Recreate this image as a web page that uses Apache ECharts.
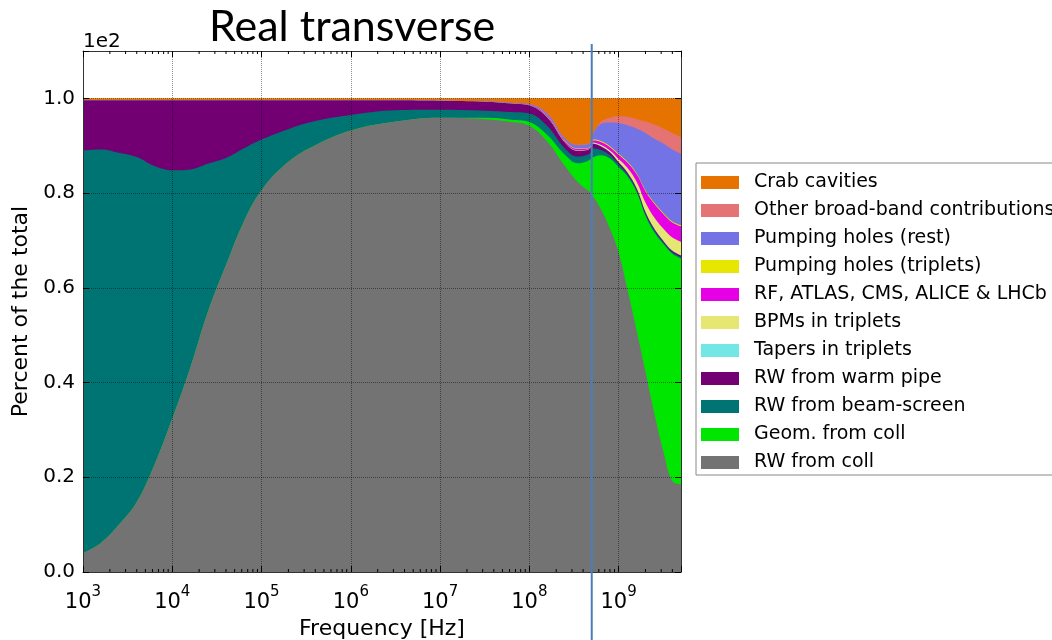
<!DOCTYPE html>
<html>
<head>
<meta charset="utf-8">
<script src="https://cdn.jsdelivr.net/npm/echarts@6/dist/echarts.min.js"></script>
<style>
  html, body { margin: 0; padding: 0; background: #fff; }
  #chart { width: 1052px; height: 640px; }
</style>
</head>
<body>
<div id="chart"></div>
<script>
// Frequency grid (Hz) shared by every contribution
const frequency = [
  1000, 1600, 2500, 4000, 6300, 1e4, 1.6e4, 2.5e4, 4e4, 6.3e4,
  1e5, 2e5, 4e5, 1e6, 3.2e6, 1e7, 3.2e7, 6.3e7, 1e8, 1.6e8,
  2.5e8, 3.5e8, 4.5e8, 4.9e8, 5.2e8, 6.3e8, 8e8, 1e9, 1.26e9, 1.6e9,
  2e9, 2.5e9, 3.2e9, 4e9, 5e9
];

// Fraction of the total real transverse impedance, per contribution
const rwColl = [
  0.040, 0.062, 0.099, 0.148, 0.226, 0.324, 0.433, 0.549, 0.648, 0.739,
  0.806, 0.866, 0.901, 0.932, 0.951, 0.959, 0.956, 0.950, 0.942, 0.908,
  0.857, 0.823, 0.806, 0.800, 0.793, 0.767, 0.725, 0.675, 0.595, 0.508,
  0.423, 0.337, 0.252, 0.192, 0.185
];
const geomColl = [
  0, 0, 0, 0, 0, 0, 0, 0, 0, 0,
  0, 0, 0, 0, 0, 0, 0.003, 0.005, 0.008, 0.014,
  0.024, 0.040, 0.062, 0.072, 0.083, 0.113, 0.148, 0.180, 0.240, 0.293,
  0.329, 0.381, 0.440, 0.480, 0.477
];
const rwBeamScreen = [
  0.850, 0.830, 0.786, 0.728, 0.631, 0.524, 0.417, 0.313, 0.226, 0.155,
  0.107, 0.069, 0.051, 0.033, 0.024, 0.017, 0.015, 0.016, 0.018, 0.019,
  0.013, 0.014, 0.013, 0.014, 0.018, 0.011, 0.007, 0.006, 0.004, 0.004,
  0.004, 0.004, 0.003, 0.003, 0.003
];
const rwWarmPipe = [
  0.106, 0.104, 0.111, 0.120, 0.139, 0.148, 0.146, 0.134, 0.122, 0.102,
  0.083, 0.061, 0.044, 0.031, 0.021, 0.019, 0.019, 0.018, 0.017, 0.018,
  0.013, 0.012, 0.010, 0.010, 0.010, 0.008, 0.006, 0.004, 0.004, 0.004,
  0.004, 0.003, 0.003, 0.003, 0.003
];
const tapersTriplets = [
  0, 0, 0, 0, 0, 0, 0, 0, 0, 0,
  0, 0, 0, 0, 0, 0, 0, 0, 0, 0,
  0, 0, 0, 0, 0.001, 0.001, 0.001, 0.001, 0.001, 0.001,
  0.001, 0.001, 0.001, 0.001, 0.001
];
const bpmsTriplets = [
  0, 0, 0, 0, 0, 0, 0, 0, 0, 0,
  0, 0, 0, 0, 0, 0, 0, 0, 0, 0.001,
  0.001, 0.001, 0.001, 0.001, 0.002, 0.002, 0.003, 0.006, 0.009, 0.013,
  0.019, 0.023, 0.025, 0.027, 0.028
];
const rfExperiments = [
  0, 0, 0, 0, 0, 0, 0, 0, 0, 0,
  0, 0, 0, 0, 0, 0, 0, 0, 0.001, 0.002,
  0.002, 0.003, 0.002, 0.002, 0.004, 0.006, 0.007, 0.009, 0.011, 0.016,
  0.024, 0.029, 0.031, 0.032, 0.033
];
const pumpingTriplets = [
  0, 0, 0, 0, 0, 0, 0, 0, 0, 0,
  0, 0, 0, 0, 0, 0, 0, 0, 0, 0.001,
  0.001, 0.001, 0.001, 0.001, 0.002, 0.002, 0.002, 0.002, 0.002, 0.002,
  0.002, 0.002, 0.002, 0.002, 0.002
];
const pumpingRest = [
  0, 0, 0, 0, 0, 0, 0, 0, 0, 0,
  0, 0, 0, 0, 0, 0, 0.001, 0.002, 0.002, 0.004,
  0.004, 0.007, 0.008, 0.009, 0.012, 0.036, 0.050, 0.065, 0.077, 0.095,
  0.121, 0.135, 0.147, 0.152, 0.151
];
const otherBroadBand = [
  0, 0, 0, 0, 0, 0, 0, 0, 0, 0,
  0, 0, 0, 0, 0, 0, 0, 0, 0, 0.001,
  0.001, 0.001, 0.001, 0.001, 0, 0.004, 0.010, 0.014, 0.018, 0.020,
  0.024, 0.030, 0.032, 0.035, 0.035
];
const crabCavities = [
  0.004, 0.004, 0.004, 0.004, 0.004, 0.004, 0.004, 0.004, 0.004, 0.004,
  0.004, 0.004, 0.004, 0.004, 0.004, 0.005, 0.006, 0.009, 0.012, 0.032,
  0.084, 0.098, 0.096, 0.090, 0.075, 0.050, 0.041, 0.038, 0.039, 0.044,
  0.049, 0.055, 0.064, 0.073, 0.082
];

// Axis ranges and labels
const freqMin = 1e3;
const freqMax = 5e9;
const yMin = 0;
const yMax = 1.1;
const yStep = 0.2;
const markerFreq = 5e8;
const titleText = 'Real transverse';
const xName = 'Frequency [Hz]';
const yName = 'Percent of the total';
const yOffsetText = '1e2';

// Stacking order, bottom to top
const layers = [
  { name: 'RW from coll', color: '#737373', values: rwColl },
  { name: 'Geom. from coll', color: '#00e600', values: geomColl },
  { name: 'RW from beam-screen', color: '#007373', values: rwBeamScreen },
  { name: 'RW from warm pipe', color: '#730073', values: rwWarmPipe },
  { name: 'Tapers in triplets', color: '#73e6e6', values: tapersTriplets },
  { name: 'BPMs in triplets', color: '#e6e673', values: bpmsTriplets },
  { name: 'RF, ATLAS, CMS, ALICE & LHCb', color: '#e600e6', values: rfExperiments },
  { name: 'Pumping holes (triplets)', color: '#e6e600', values: pumpingTriplets },
  { name: 'Pumping holes (rest)', color: '#7373e6', values: pumpingRest },
  { name: 'Other broad-band contributions', color: '#e67373', values: otherBroadBand },
  { name: 'Crab cavities', color: '#e67300', values: crabCavities }
];

// Running totals: each band is filled from zero up to its cumulative top,
// and lower bands are painted over the higher ones.
const running = frequency.map(() => 0);
const cumulative = layers.map(l => l.values.map((v, i) => (running[i] += v)));

// Log-axis minor tick positions (2..9 x 10^n)
const minorTickFreqs = [];
for (let e = 3; e <= 9; e++) {
  for (let m = 2; m <= 9; m++) {
    const f = m * Math.pow(10, e);
    if (f < freqMax) minorTickFreqs.push(f);
  }
}

const FONT = 'DejaVu Sans';
const chart = echarts.init(document.getElementById('chart'), null, { renderer: 'canvas' });

function powLabel(v) {
  const e = Math.round(Math.log10(v));
  if (Math.abs(v / Math.pow(10, e) - 1) > 1e-6) return '';
  return '{b|10}{s|' + e + '}';
}

const gridLine = { show: true, lineStyle: { type: 'dotted', color: 'rgba(0,0,0,0.45)', width: 1 } };
const frame = { show: true, onZero: false, lineStyle: { color: '#333', width: 1 } };

const areaSeries = layers.map((l, k) => ({
  name: l.name,
  type: 'line',
  smooth: 0.4,
  symbol: 'none',
  showSymbol: false,
  silent: true,
  lineStyle: { width: 0, color: l.color },
  itemStyle: { color: l.color },
  areaStyle: { color: l.color, opacity: 1, origin: 'start' },
  data: frequency.map((f, i) => [f, cumulative[k][i]]),
  z: 2
})).reverse();

const minorTickSeries = {
  name: 'minor ticks',
  type: 'custom',
  silent: true,
  z: 6,
  encode: { x: 0, y: 1 },
  data: minorTickFreqs.map(f => [f, 0]),
  renderItem(params, api) {
    const x = api.coord([api.value(0), 0])[0];
    const top = params.coordSys.y;
    const bottom = params.coordSys.y + params.coordSys.height;
    return {
      type: 'group',
      children: [
        { type: 'line', shape: { x1: x, y1: bottom, x2: x, y2: bottom - 3 }, style: { stroke: '#000', lineWidth: 1 } },
        { type: 'line', shape: { x1: x, y1: top, x2: x, y2: top + 3 }, style: { stroke: '#000', lineWidth: 1 } }
      ]
    };
  }
};

const option = {
  animation: false,
  backgroundColor: '#fff',
  title: {
    text: titleText,
    left: 204,
    top: 1,
    textStyle: { fontFamily: 'Lato', fontSize: 43, fontWeight: 'normal', color: '#000' }
  },
  grid: { left: 83, top: 51, width: 598, height: 521, containLabel: false, outerBoundsMode: 'none' },
  legend: {
    orient: 'vertical',
    left: 696,
    top: 163,
    data: layers.map(l => l.name).reverse(),
    icon: 'rect',
    itemWidth: 38,
    itemHeight: 13,
    itemGap: 9,
    padding: [10, 12, 3, 5],
    borderColor: '#888',
    borderWidth: 1,
    backgroundColor: '#fff',
    selectedMode: false,
    textStyle: { fontFamily: FONT, fontSize: 19, color: '#000', lineHeight: 18, padding: [0, 0, 0, 10] }
  },
  xAxis: [
    {
      type: 'log', logBase: 10, min: freqMin, max: freqMax, z: 5,
      name: xName, nameLocation: 'middle', nameGap: 43,
      nameTextStyle: { fontFamily: FONT, fontSize: 22, color: '#000' },
      axisLine: frame,
      axisTick: { show: true, inside: true, length: 6, lineStyle: { color: '#000' } },
      splitLine: gridLine,
      axisLabel: {
        margin: 20,
        formatter: powLabel,
        rich: {
          b: { fontFamily: FONT, fontSize: 21, color: '#000', lineHeight: 21, verticalAlign: 'bottom' },
          s: { fontFamily: FONT, fontSize: 15, color: '#000', lineHeight: 15, verticalAlign: 'bottom', padding: [0, 0, 13, 0] }
        }
      }
    },
    {
      type: 'log', logBase: 10, min: freqMin, max: freqMax, position: 'top', z: 5,
      axisLine: frame,
      axisTick: { show: true, inside: true, length: 6, lineStyle: { color: '#000' } },
      splitLine: { show: false },
      axisLabel: { show: false }
    }
  ],
  yAxis: [
    {
      type: 'value', min: yMin, max: yMax, interval: yStep, z: 5,
      name: yName, nameLocation: 'middle', nameGap: 43, nameRotate: 90,
      nameTextStyle: { fontFamily: FONT, fontSize: 22, color: '#000' },
      axisLine: frame,
      axisTick: { show: true, inside: true, length: 6, lineStyle: { color: '#000' } },
      splitLine: gridLine,
      axisLabel: {
        margin: 8, fontFamily: FONT, fontSize: 20, color: '#000',
        formatter: v => (v > 1.05 ? '' : v.toFixed(1))
      }
    },
    {
      type: 'value', min: yMin, max: yMax, interval: yStep, position: 'right', z: 5,
      axisLine: frame,
      axisTick: { show: true, inside: true, length: 6, lineStyle: { color: '#000' } },
      splitLine: { show: false },
      axisLabel: { show: false }
    }
  ],
  series: areaSeries.concat([minorTickSeries]),
  graphic: [
    {
      type: 'text', left: 83, top: 32, z: 10,
      style: { text: yOffsetText, font: '20px "DejaVu Sans"', fill: '#000' }
    }
  ]
};

chart.setOption(option);

// Vertical marker line at the chosen frequency, spanning past the plot area
const markerX = chart.convertToPixel({ xAxisIndex: 0 }, markerFreq);
chart.setOption({
  graphic: [
    {
      type: 'text', left: 83, top: 32, z: 10,
      style: { text: yOffsetText, font: '20px "DejaVu Sans"', fill: '#000' }
    },
    {
      type: 'line', z: 20,
      shape: { x1: markerX, y1: 44, x2: markerX, y2: 640 },
      style: { stroke: '#4a7ebb', lineWidth: 2 }
    }
  ]
});
</script>
</body>
</html>
